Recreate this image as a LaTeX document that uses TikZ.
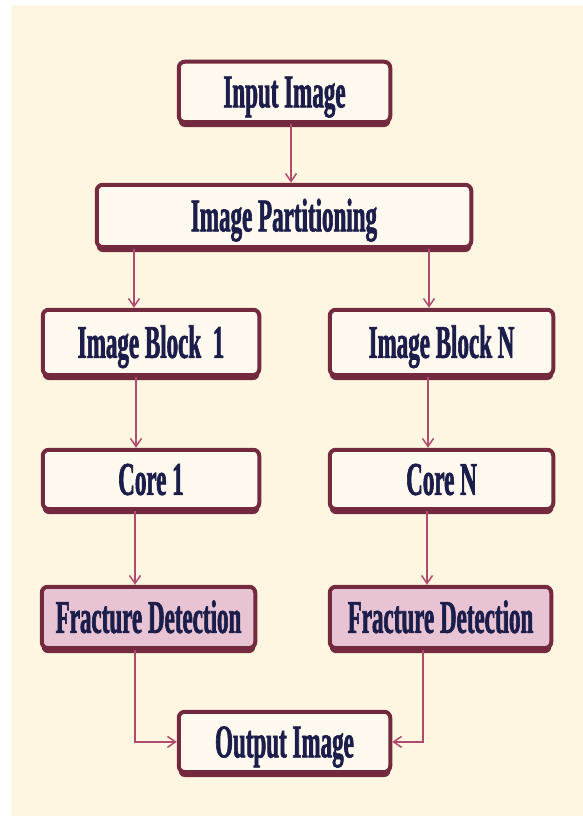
\documentclass[tikz,border=0pt]{standalone}
\usepackage{fontspec}
\newfontfamily\boxfont{Liberation Serif}[FakeStretch=0.49,FakeBold=1.3]
\usetikzlibrary{arrows.meta,shadows}
\definecolor{bgcol}{HTML}{FEF6E0}
\definecolor{bordercol}{HTML}{742A3E}
\definecolor{innercol}{HTML}{FFF9EF}
\definecolor{pinkcol}{HTML}{E8C3D3}
\definecolor{arrowcol}{HTML}{AF4B6E}
\definecolor{textcol}{HTML}{1B1E4B}
\tikzset{
  boxstyle/.style={draw=bordercol, line width=4pt, rounded corners=6pt, fill=innercol,
    text=textcol, font=\boxfont\bfseries\fontsize{47}{52}\selectfont,
    text height=31pt, text depth=0pt, inner sep=0pt, align=center,
    drop shadow={shadow xshift=0pt, shadow yshift=-5pt, fill=bordercol, opacity=1}},
  pinkbox/.style={boxstyle, fill=pinkcol},
  arr/.style={draw=arrowcol, line width=1.5pt, -{Straight Barb[length=8pt,width=11pt]}}
}
\begin{document}
\begin{tikzpicture}[x=1pt,y=-1pt]
  \useasboundingbox (0,0) rectangle (583,816);
  \fill[white] (0,0) rectangle (583,816);
  \fill[bgcol] (11,5) rectangle (583,816);

  \node[boxstyle, minimum width=211.5pt, minimum height=60.25pt] (in) at (284.5,91.875) {Input Image};
  \node[boxstyle, minimum width=374.5pt, minimum height=62.25pt] (part) at (284,215.875) {Image Partitioning};
  \node[boxstyle, minimum width=216.5pt, minimum height=65.25pt] (b1) at (151,342.375) {Image Block\ \ 1};
  \node[boxstyle, minimum width=223.5pt, minimum height=65.25pt] (bN) at (441.5,342.375) {Image Block N};
  \node[boxstyle, minimum width=216.5pt, minimum height=59.25pt] (c1) at (151,479.375) {Core 1};
  \node[boxstyle, minimum width=223.5pt, minimum height=59.25pt] (cN) at (441.5,479.375) {Core N};
  \node[pinkbox, minimum width=213.5pt, minimum height=61.25pt] (f1) at (148.5,617.375) {Fracture Detection};
  \node[pinkbox, minimum width=221.5pt, minimum height=61.25pt] (fN) at (440.5,617.375) {Fracture Detection};
  \node[boxstyle, minimum width=211.5pt, minimum height=60.25pt] (out) at (284.5,741.875) {Output Image};

  \draw[arr] ([xshift=6.5pt]in.south) -- ([xshift=6.5pt]in.south |- part.north);
  \draw[arr] ([xshift=-17pt]b1.north |- part.south) -- ([xshift=-17pt]b1.north);
  \draw[arr] ([xshift=-12.5pt]bN.north |- part.south) -- ([xshift=-12.5pt]bN.north);
  \draw[arr] ([xshift=-15pt]b1.south) -- ([xshift=-15pt]c1.north);
  \draw[arr] ([xshift=-13.5pt]bN.south) -- ([xshift=-13.5pt]cN.north);
  \draw[arr] ([xshift=-16pt]c1.south) -- ([xshift=-16pt]c1.south |- f1.north);
  \draw[arr] ([xshift=-14.5pt]cN.south) -- ([xshift=-14.5pt]cN.south |- fN.north);
  \draw[arr] ([xshift=-13.5pt]f1.south) |- (out.west);
  \draw[arr] ([xshift=-17.5pt]fN.south) |- (out.east);
\end{tikzpicture}
\end{document}
